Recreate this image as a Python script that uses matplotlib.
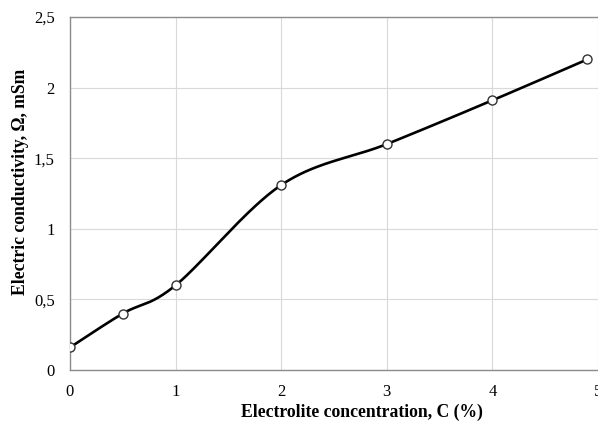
import numpy as np
import matplotlib
matplotlib.use("Agg")
import matplotlib.pyplot as plt
from matplotlib.ticker import FuncFormatter

# data
conc = [0, 0.5, 1, 2, 3, 4, 4.9]
cond = [0.16, 0.40, 0.60, 1.31, 1.60, 1.91, 2.20]


def smooth(xs, ys, n=40):
    # Excel-like smoothed line: Catmull-Rom through the points
    xs = np.asarray(xs, float)
    ys = np.asarray(ys, float)
    px = np.concatenate([[xs[0]], xs, [xs[-1]]])
    py = np.concatenate([[ys[0]], ys, [ys[-1]]])
    outx, outy = [], []
    for k in range(1, len(px) - 2):
        t = np.linspace(0, 1, n)
        p0x, p1x, p2x, p3x = px[k - 1:k + 3]
        p0y, p1y, p2y, p3y = py[k - 1:k + 3]
        c1x, c1y = p1x + (p2x - p0x) / 6, p1y + (p2y - p0y) / 6
        c2x, c2y = p2x - (p3x - p1x) / 6, p2y - (p3y - p1y) / 6
        bx = (1 - t) ** 3 * p1x + 3 * (1 - t) ** 2 * t * c1x + 3 * (1 - t) * t ** 2 * c2x + t ** 3 * p2x
        by = (1 - t) ** 3 * p1y + 3 * (1 - t) ** 2 * t * c1y + 3 * (1 - t) * t ** 2 * c2y + t ** 3 * p2y
        outx.extend(bx)
        outy.extend(by)
    return outx, outy


plt.rcParams['font.family'] = ['Liberation Serif', 'DejaVu Serif']

fig = plt.figure(figsize=(5.98, 4.28), dpi=100)
ax = fig.add_axes([70 / 598, 1 - 370 / 428, 1 - 70 / 598, (370 - 17) / 428])

sx, sy = smooth(conc, cond)
ax.plot(sx, sy, color='black', lw=1.9, zorder=3)
ax.plot(conc, cond, 'o', ms=6.5, mfc='white', mec='#333333', mew=1.0, zorder=4)

ax.set_xlim(0, 5)
ax.set_ylim(0, 2.5)
ax.set_xticks([0, 1, 2, 3, 4, 5])
ax.set_yticks([0, 0.5, 1, 1.5, 2, 2.5])
fmt = FuncFormatter(lambda v, p: ('%g' % v).replace('.', ','))
ax.xaxis.set_major_formatter(fmt)
ax.yaxis.set_major_formatter(fmt)
ax.grid(True, color='#d9d9d9', lw=0.8)
ax.set_axisbelow(True)
for s in ['left', 'bottom', 'top']:
    ax.spines[s].set_color('#8c8c8c')
    ax.spines[s].set_linewidth(1.0)
ax.spines['right'].set_visible(False)
ax.tick_params(length=0, labelsize=12)
ax.tick_params(axis='x', pad=10)
ax.tick_params(axis='y', pad=11)

ax.set_xlabel('Electrolite concentration, C (%)', fontsize=12.7, fontweight='bold')
ax.set_ylabel('Electric conductivity, Ω, mSm', fontsize=12.7, fontweight='bold')
ax.xaxis.set_label_coords(0.553, -0.096)
ax.yaxis.set_label_coords(-0.078, 0.532)

fig.savefig('out.png', dpi=100)
